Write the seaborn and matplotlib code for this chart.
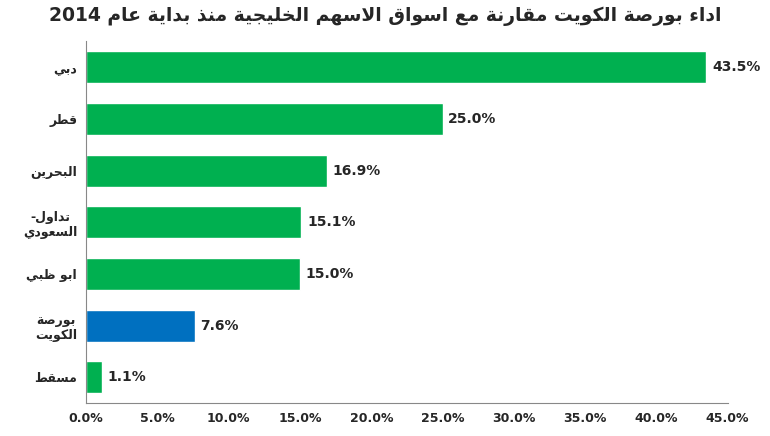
import re
import matplotlib
matplotlib.use('Agg')
import matplotlib.pyplot as plt
import seaborn as sns
import pandas as pd
from matplotlib.ticker import FuncFormatter

# data
markets = ['دبي', 'قطر', 'البحرين', 'تداول-\nالسعودي', 'ابو ظبي', 'بورصة\nالكويت', 'مسقط']
returns = [43.5, 25.0, 16.9, 15.1, 15.0, 7.6, 1.1]
bar_colors = ['#00B050', '#00B050', '#00B050', '#00B050', '#00B050', '#0070C0', '#00B050']
title = 'اداء بورصة الكويت مقارنة مع اسواق الاسهم الخليجية منذ بداية عام 2014'

# minimal Arabic shaping: letter -> (isolated, final, initial, medial)
FORMS = {
    'ء': (0xFE80, None, None, None),
    'ا': (0xFE8D, 0xFE8E, None, None), 'ب': (0xFE8F, 0xFE90, 0xFE91, 0xFE92),
    'ة': (0xFE93, 0xFE94, None, None), 'ت': (0xFE95, 0xFE96, 0xFE97, 0xFE98),
    'ج': (0xFE9D, 0xFE9E, 0xFE9F, 0xFEA0), 'ح': (0xFEA1, 0xFEA2, 0xFEA3, 0xFEA4),
    'خ': (0xFEA5, 0xFEA6, 0xFEA7, 0xFEA8), 'د': (0xFEA9, 0xFEAA, None, None),
    'ذ': (0xFEAB, 0xFEAC, None, None), 'ر': (0xFEAD, 0xFEAE, None, None),
    'س': (0xFEB1, 0xFEB2, 0xFEB3, 0xFEB4), 'ص': (0xFEB9, 0xFEBA, 0xFEBB, 0xFEBC),
    'ط': (0xFEC1, 0xFEC2, 0xFEC3, 0xFEC4), 'ظ': (0xFEC5, 0xFEC6, 0xFEC7, 0xFEC8),
    'ع': (0xFEC9, 0xFECA, 0xFECB, 0xFECC), 'ف': (0xFED1, 0xFED2, 0xFED3, 0xFED4),
    'ق': (0xFED5, 0xFED6, 0xFED7, 0xFED8), 'ك': (0xFED9, 0xFEDA, 0xFEDB, 0xFEDC),
    'ل': (0xFEDD, 0xFEDE, 0xFEDF, 0xFEE0), 'م': (0xFEE1, 0xFEE2, 0xFEE3, 0xFEE4),
    'ن': (0xFEE5, 0xFEE6, 0xFEE7, 0xFEE8), 'ه': (0xFEE9, 0xFEEA, 0xFEEB, 0xFEEC),
    'و': (0xFEED, 0xFEEE, None, None), 'ي': (0xFEF1, 0xFEF2, 0xFEF3, 0xFEF4),
}


def shape_line(s):
    s = s.replace('لا', '\uE000')  # lam-alef placeholder
    out = []
    for i, c in enumerate(s):
        if c == '\uE000':
            prev = s[i - 1] if i > 0 else ''
            joins_prev = prev in FORMS and FORMS[prev][2] is not None
            out.append(chr(0xFEFC if joins_prev else 0xFEFB))
            continue
        if c not in FORMS:
            out.append(c)
            continue
        f = FORMS[c]
        prev = s[i - 1] if i > 0 else ''
        nxt = s[i + 1] if i + 1 < len(s) else ''
        jp = prev in FORMS and FORMS[prev][2] is not None and f[1] is not None
        jn = f[2] is not None and (nxt in FORMS or nxt == '\uE000')
        if jp and jn:
            out.append(chr(f[3]))
        elif jp:
            out.append(chr(f[1]))
        elif jn:
            out.append(chr(f[2]))
        else:
            out.append(chr(f[0]))
    tokens = re.findall(r'[0-9]+|.', ''.join(out))
    return ''.join(reversed(tokens))


def ar(s):
    return '\n'.join(shape_line(line) for line in s.split('\n'))


df = pd.DataFrame({'market': [ar(m) for m in markets], 'ret': returns})

sns.set_style('white')
plt.rcParams['font.family'] = ['DejaVu Sans']

fig, ax = plt.subplots(figsize=(7.7, 4.36), dpi=100)
sns.barplot(data=df, y='market', x='ret', hue='market', palette=bar_colors,
            legend=False, orient='h', width=0.62, ax=ax, saturation=1)

for i, v in enumerate(returns):
    ax.text(v + 0.4, i, f'{v:.1f}%', va='center', ha='left',
            fontsize=10, fontweight='bold')

ax.set_xlim(0, 45)
ax.set_xticks(range(0, 46, 5))
ax.xaxis.set_major_formatter(FuncFormatter(lambda x, p: f'{x:.1f}%'))
ax.set_xlabel('')
ax.set_ylabel('')
ax.tick_params(axis='both', labelsize=9, length=3)
for lbl in ax.get_xticklabels() + ax.get_yticklabels():
    lbl.set_fontweight('bold')
    lbl.set_multialignment('center')
for sp in ['top', 'right']:
    ax.spines[sp].set_visible(False)
for sp in ['left', 'bottom']:
    ax.spines[sp].set_color('#888888')

fig.suptitle(ar(title), fontsize=13.5, fontweight='bold', x=0.5, y=0.985)
plt.subplots_adjust(left=0.112, right=0.945, top=0.905, bottom=0.075)
plt.savefig('out.png')
